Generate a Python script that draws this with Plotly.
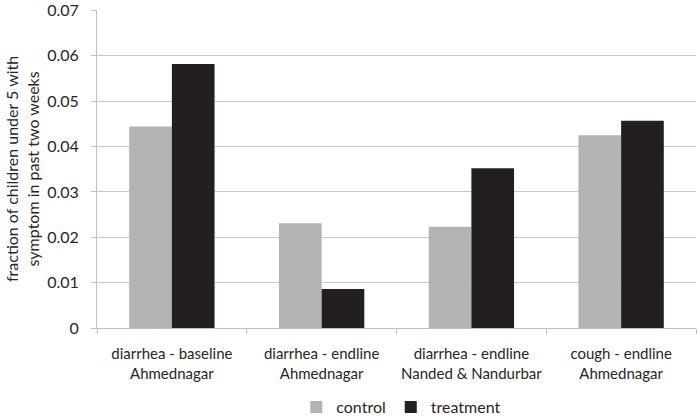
import plotly.graph_objects as go

categories = ["diarrhea - baseline<br>Ahmednagar", "diarrhea - endline<br>Ahmednagar",
              "diarrhea - endline<br>Nanded & Nandurbar", "cough - endline<br>Ahmednagar"]
control = [0.0444, 0.0231, 0.0223, 0.0425]
treatment = [0.0582, 0.0086, 0.0352, 0.0457]
y_ticks = [0, 0.01, 0.02, 0.03, 0.04, 0.05, 0.06, 0.07]
y_tick_labels = ["0", "0.01", "0.02", "0.03", "0.04", "0.05", "0.06", "0.07"]
y_title = "fraction of children under 5 with<br>symptom in past two weeks"

FONT = "Lato, 'Open Sans', sans-serif"

fig = go.Figure()
fig.add_trace(go.Bar(name="control", x=categories, y=control, marker_color="#b3b3b3",
                     marker_line_width=0))
fig.add_trace(go.Bar(name="treatment", x=categories, y=treatment, marker_color="#231f20",
                     marker_line_width=0))

fig.update_layout(
    width=697, height=418,
    margin=dict(l=97, r=1, t=10, b=90, autoexpand=False),
    plot_bgcolor="white", paper_bgcolor="white",
    barmode="group", bargap=0.43, bargroupgap=0,
    font=dict(family=FONT, size=16, color="#262626"),
    legend=dict(orientation="h", x=0.508, xanchor="center", yref="container",
                y=0.026, yanchor="middle",
                font=dict(size=16), itemwidth=30, traceorder="normal"),
    showlegend=True,
)
fig.update_xaxes(
    automargin=False, tickangle=0, ticklabelstandoff=12,
    showline=True, linecolor="#c0c0c0", linewidth=1,
    ticks="outside", tickson="boundaries", ticklen=5, tickcolor="#c0c0c0",
    tickfont=dict(size=15), showgrid=False,
)
fig.update_yaxes(
    automargin=False, ticklabeloverflow="allow", ticklabelstandoff=9,
    range=[0, 0.0701], tickvals=y_ticks, ticktext=y_tick_labels,
    showline=True, linecolor="#c0c0c0", linewidth=1,
    ticks="outside", ticklen=5, tickcolor="#c0c0c0",
    showgrid=True, gridcolor="#c8c8c8", gridwidth=1,
    tickfont=dict(size=16), zeroline=False,
)
fig.add_annotation(
    text=y_title, xref="paper", yref="paper", x=0, y=0.5, xshift=-75,
    xanchor="center", yanchor="middle", textangle=-90, showarrow=False,
    font=dict(size=16, color="#262626"),
)

fig.write_html("out.html", config={"displayModeBar": False},
               post_script="document.body.style.margin='0';document.body.style.overflow='hidden';")
